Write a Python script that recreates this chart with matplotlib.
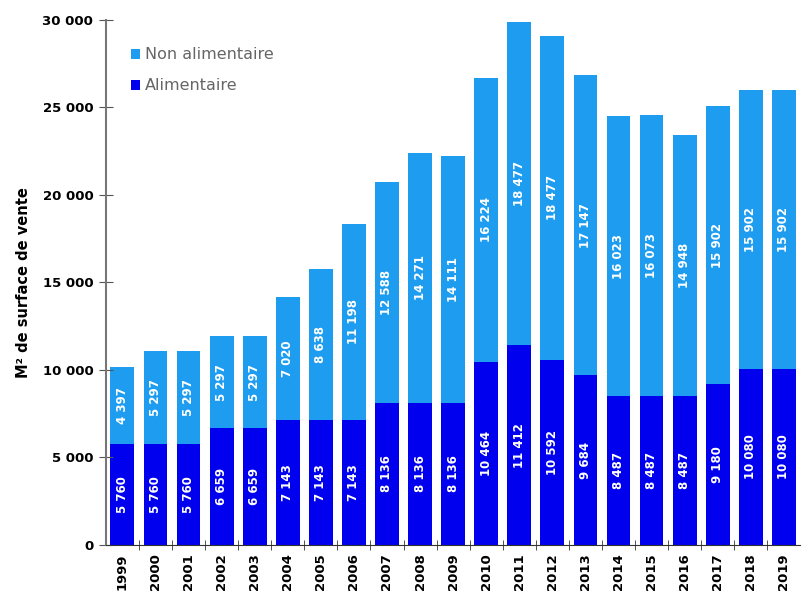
import numpy as np
import matplotlib.pyplot as plt

years = [str(y) for y in range(1999, 2020)]
alimentaire = [5760, 5760, 5760, 6659, 6659, 7143, 7143, 7143, 8136, 8136, 8136,
               10464, 11412, 10592, 9684, 8487, 8487, 8487, 9180, 10080, 10080]
non_alimentaire = [4397, 5297, 5297, 5297, 5297, 7020, 8638, 11198, 12588, 14271, 14111,
                   16224, 18477, 18477, 17147, 16023, 16073, 14948, 15902, 15902, 15902]

c_alim = '#0000ee'
c_non = '#1e9cf0'

def fmt(v):
    return f"{v:,}".replace(",", " ")

fig = plt.figure(figsize=(8.02, 5.94), dpi=100)
ax = fig.add_axes([0.132, 0.0825, 0.866, 0.884])

x = np.arange(len(years))
w = 0.72
ax.bar(x, alimentaire, w, color=c_alim, label='Alimentaire')
ax.bar(x, non_alimentaire, w, bottom=alimentaire, color=c_non, label='Non alimentaire')

for i in range(len(years)):
    ax.text(x[i], alimentaire[i] / 2, fmt(alimentaire[i]), rotation=90, ha='center', va='center',
            color='white', fontweight='bold', fontsize=8.5)
    ax.text(x[i], alimentaire[i] + non_alimentaire[i] / 2, fmt(non_alimentaire[i]), rotation=90,
            ha='center', va='center', color='white', fontweight='bold', fontsize=8.5)

ax.set_xlim(-0.5, len(years) - 0.5)
ax.set_ylim(0, 30000)
ax.set_yticks(np.arange(0, 30001, 5000))
ax.set_yticklabels([fmt(v) for v in range(0, 30001, 5000)], fontweight='bold', fontsize=9.5)
ax.set_xticks(x)
ax.set_xticklabels(years, rotation=90, fontweight='bold', fontsize=9.5)
ax.set_xticks(x[:-1] + 0.5, minor=True)
ax.tick_params(axis='x', which='major', length=0, pad=6)
ax.tick_params(axis='x', which='minor', length=7, direction='inout', color='#333333')
ax.tick_params(axis='y', length=10, direction='inout', color='#555555', pad=4)

ax.spines['top'].set_visible(False)
ax.spines['right'].set_visible(False)
ax.spines['left'].set_color('#777777')
ax.spines['left'].set_linewidth(1.5)
ax.spines['bottom'].set_color('#333333')

ax.set_ylabel('M² de surface de vente', fontweight='bold', fontsize=10.5, labelpad=8)

handles, labels = ax.get_legend_handles_labels()
leg = ax.legend(handles[::-1], labels[::-1], loc='upper left', bbox_to_anchor=(0.015, 0.975),
                frameon=False, fontsize=11.5, handlelength=0.6, handleheight=0.6,
                handletextpad=0.3, labelspacing=1.0)
for t in leg.get_texts():
    t.set_color('#666666')

fig.savefig('out.png', dpi=100)
